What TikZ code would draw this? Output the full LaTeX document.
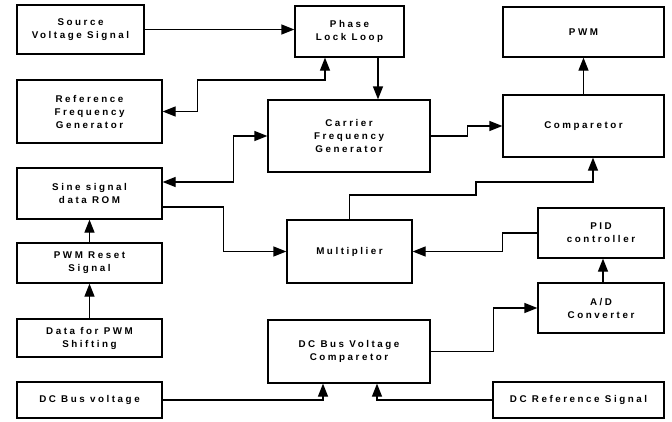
\documentclass[tikz,border=0pt]{standalone}
\usepackage{fontspec}
\setmainfont{Liberation Sans}[LetterSpace=26]
\usetikzlibrary{arrows.meta}
\begin{document}
\begin{tikzpicture}[x=1pt,y=-1pt,
  box/.style={draw,line width=1.2pt,inner sep=0pt,align=center,
    font=\fontsize{9.8}{13}\selectfont\bfseries},
  tip/.tip={Triangle[length=13pt,width=10pt]},
  arr/.style={line width=1.2pt,-tip},
  darr/.style={line width=1.2pt,tip-tip}]
\useasboundingbox (0,0) rectangle (672,421);
\node[box,minimum width=127pt,minimum height=49pt] (src) at (80.5,29.5) {Source\\Voltage Signal};
\node[box,minimum width=109pt,minimum height=51pt] (pll) at (349.5,31.5) {Phase\\Lock Loop};
\node[box,minimum width=145pt,minimum height=63pt] (ref) at (89.5,111.5) {Reference\\Frequency\\Generator};
\node[box,minimum width=162pt,minimum height=72pt] (car) at (349,136) {Carrier\\Frequency\\Generator};
\node[box,minimum width=161pt,minimum height=50pt] (pwm) at (583.5,32) {PWM};
\node[box,minimum width=161pt,minimum height=62pt] (cmp) at (583.5,126) {Comparetor};
\node[box,minimum width=145pt,minimum height=51pt] (rom) at (89.5,193.5) {Sine signal\\data ROM};
\node[box,minimum width=125pt,minimum height=63pt] (mul) at (349.5,251.5) {Multiplier};
\node[box,minimum width=126pt,minimum height=50pt] (pid) at (601,233) {PID\\controller};
\node[box,minimum width=145pt,minimum height=40pt] (rst) at (89.5,263) {PWM Reset\\Signal};
\node[box,minimum width=145pt,minimum height=38pt] (dat) at (89.5,338) {Data for PWM\\Shifting};
\node[box,minimum width=126pt,minimum height=50pt] (adc) at (601,308) {A/D\\Converter};
\node[box,minimum width=162pt,minimum height=63pt] (dcc) at (349,351.5) {DC Bus Voltage\\Comparetor};
\node[box,minimum width=145pt,minimum height=36pt] (dcv) at (89.5,400) {DC Bus voltage};
\node[box,minimum width=171pt,minimum height=36pt] (dcr) at (578.5,400) {DC Reference Signal};

\draw[arr] (src.east) -- (src.east -| pll.west);
\draw[darr] (ref.east) -- ++(35,0) |- (325,80) -- (325,80 |- pll.south);
\draw[arr] ([xshift=28.5pt]pll.south) -- ([xshift=28.5pt]pll.south |- car.north);
\draw[arr] (car.east) -- ++(37,0) |- (cmp.west);
\draw[darr] ([yshift=11.5pt]rom.east) -- ++(71,0) |- (car.west);
\draw[arr] ([yshift=-13.5pt]rom.east) -- ++(61,0) |- (mul.west);
\draw[arr] (mul.north) |- (476,195) |- (593,182) -- (593,182 |- cmp.south);
\draw[arr] (pid.west) -- ++(-35,0) |- (mul.east);
\draw[arr] ([xshift=2pt]adc.north) -- ([xshift=2pt]pid.south);
\draw[arr] (dcc.east) -- ++(63,0) |- (adc.west);
\draw[arr] (dcv.east) -| ([xshift=-26pt]dcc.south);
\draw[arr] (dcr.west) -| ([xshift=28pt]dcc.south);
\draw[arr] (rst.north) -- (rom.south);
\draw[arr] (dat.north) -- (rst.south);
\draw[arr] (cmp.north) -- (pwm.south);
\end{tikzpicture}
\end{document}
